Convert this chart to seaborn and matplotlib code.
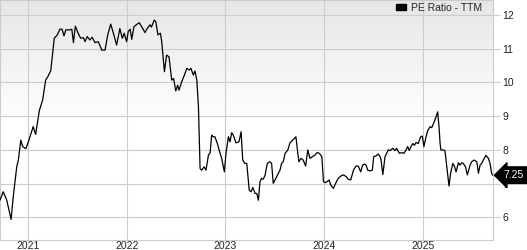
import numpy as np
import pandas as pd
import matplotlib
matplotlib.use("Agg")
import matplotlib.pyplot as plt
from matplotlib.patches import Patch
from matplotlib.colors import LinearSegmentedColormap
import seaborn as sns

# ---------------- data ----------------
dates = [
    "2020-09-18", "2020-09-30", "2020-10-13", "2020-10-29", "2020-11-06", "2020-11-19", "2020-11-25",
    "2020-12-04", "2020-12-11", "2020-12-23", "2021-01-01", "2021-01-19", "2021-01-28", "2021-02-11",
    "2021-02-23", "2021-03-06", "2021-03-14", "2021-03-25", "2021-04-07", "2021-04-18", "2021-04-28",
    "2021-05-06", "2021-05-13", "2021-05-20", "2021-06-04", "2021-06-11", "2021-06-17", "2021-06-24",
    "2021-07-05", "2021-07-14", "2021-07-24", "2021-07-30", "2021-08-07", "2021-08-17", "2021-08-25",
    "2021-09-05", "2021-09-17", "2021-09-30", "2021-10-12", "2021-10-22", "2021-11-02", "2021-11-12",
    "2021-11-24", "2021-12-06", "2021-12-15", "2021-12-22", "2021-12-31", "2022-01-06", "2022-01-13",
    "2022-01-19", "2022-01-27", "2022-02-06", "2022-02-16", "2022-02-25", "2022-03-09", "2022-03-18",
    "2022-03-28", "2022-04-02", "2022-04-12", "2022-04-18", "2022-04-26", "2022-05-05", "2022-05-10",
    "2022-05-20", "2022-05-28", "2022-06-06", "2022-06-16", "2022-06-23", "2022-07-01", "2022-07-08",
    "2022-07-13", "2022-07-23", "2022-08-02", "2022-08-11", "2022-08-20", "2022-08-26", "2022-09-04",
    "2022-09-10", "2022-09-17", "2022-09-23", "2022-09-29", "2022-10-05", "2022-10-14", "2022-10-21",
    "2022-10-30", "2022-11-05", "2022-11-11", "2022-11-17", "2022-11-23", "2022-12-02", "2022-12-12",
    "2022-12-18", "2022-12-28", "2023-01-03", "2023-01-12", "2023-01-18", "2023-01-24", "2023-01-30",
    "2023-02-09", "2023-02-20", "2023-02-28", "2023-03-06", "2023-03-14", "2023-03-21", "2023-03-30",
    "2023-04-06", "2023-04-12", "2023-04-21", "2023-04-27", "2023-05-03", "2023-05-09", "2023-05-15",
    "2023-05-21", "2023-05-28", "2023-06-05", "2023-06-15", "2023-06-21", "2023-06-27", "2023-07-07",
    "2023-07-16", "2023-07-22", "2023-07-28", "2023-08-03", "2023-08-10", "2023-08-20", "2023-08-28",
    "2023-09-09", "2023-09-19", "2023-09-26", "2023-09-30", "2023-10-08", "2023-10-16", "2023-10-25",
    "2023-11-02", "2023-11-10", "2023-11-19", "2023-11-29", "2023-12-06", "2023-12-15", "2023-12-24",
    "2023-12-30", "2024-01-05", "2024-01-13", "2024-01-20", "2024-01-26", "2024-02-05", "2024-02-13",
    "2024-02-23", "2024-03-04", "2024-03-13", "2024-03-23", "2024-03-31", "2024-04-09", "2024-04-19",
    "2024-04-28", "2024-05-07", "2024-05-16", "2024-05-23", "2024-05-29", "2024-06-05", "2024-06-11",
    "2024-06-19", "2024-06-28", "2024-07-03", "2024-07-11", "2024-07-20", "2024-07-27", "2024-07-30",
    "2024-08-06", "2024-08-14", "2024-08-20", "2024-08-26", "2024-09-02", "2024-09-12", "2024-09-20",
    "2024-09-26", "2024-10-06", "2024-10-15", "2024-10-23", "2024-10-31", "2024-11-06", "2024-11-12",
    "2024-11-18", "2024-11-25", "2024-12-01", "2024-12-07", "2024-12-15", "2024-12-24", "2024-12-30",
    "2025-01-05", "2025-01-13", "2025-01-19", "2025-01-28", "2025-02-03", "2025-02-12", "2025-02-19",
    "2025-02-25", "2025-03-02", "2025-03-06", "2025-03-09", "2025-03-18", "2025-03-24", "2025-03-31",
    "2025-04-08", "2025-04-14", "2025-04-22", "2025-04-28", "2025-05-04", "2025-05-13", "2025-05-19",
    "2025-05-25", "2025-05-31", "2025-06-08", "2025-06-15", "2025-06-25", "2025-07-01", "2025-07-10",
    "2025-07-20", "2025-07-26", "2025-08-01", "2025-08-07", "2025-08-13", "2025-08-23", "2025-09-01",
    "2025-09-07", "2025-09-13", "2025-09-17",
]
pe_ratio = [
    6.51, 6.76, 6.51, 5.94, 6.61, 7.50, 7.70,
    8.29, 8.10, 8.04, 8.24, 8.69, 8.46, 9.18,
    9.48, 10.07, 10.17, 10.35, 11.31, 11.41, 11.58,
    11.58, 11.38, 11.56, 11.56, 11.58, 11.18, 11.67,
    11.45, 11.31, 11.33, 11.21, 11.36, 11.26, 11.34,
    11.18, 11.21, 10.96, 10.96, 11.41, 11.73, 11.46,
    11.11, 11.60, 11.31, 11.46, 11.21, 11.51, 11.58,
    11.28, 11.65, 11.72, 11.77, 11.65, 11.48, 11.61,
    11.71, 11.64, 11.85, 11.80, 11.41, 11.46, 11.21,
    10.32, 10.81, 10.76, 10.07, 10.12, 9.75, 9.92,
    9.77, 10.02, 10.22, 10.42, 10.37, 10.42, 10.22,
    10.34, 10.07, 9.28, 7.45, 7.40, 7.50, 7.40,
    7.85, 7.90, 8.44, 8.39, 8.39, 8.19, 7.90,
    7.75, 7.35, 7.90, 8.39, 8.24, 8.51, 8.44,
    8.21, 8.24, 8.54, 7.70, 7.60, 7.60, 6.81,
    6.76, 6.89, 6.71, 6.71, 6.51, 7.06, 7.16,
    7.13, 7.26, 7.60, 7.65, 7.60, 7.01, 7.16,
    7.31, 7.40, 7.60, 7.65, 7.90, 8.00, 8.21,
    8.31, 8.39, 7.90, 7.65, 7.75, 7.70, 7.52,
    8.00, 7.75, 7.80, 7.85, 7.92, 7.90, 7.80,
    7.06, 7.03, 7.06, 7.11, 6.96, 6.86, 7.01,
    7.16, 7.23, 7.26, 7.21, 7.13, 7.11, 7.40,
    7.52, 7.52, 7.35, 7.55, 7.58, 7.55, 7.40,
    7.38, 7.40, 7.80, 7.82, 7.88, 7.80, 7.72,
    7.27, 7.80, 7.90, 8.00, 7.98, 8.05, 7.98,
    8.05, 7.90, 7.92, 7.90, 8.00, 8.10, 7.98,
    8.10, 8.19, 8.14, 8.22, 8.19, 8.39, 8.41,
    8.10, 8.39, 8.57, 8.69, 8.66, 8.83, 8.98,
    9.13, 8.69, 8.19, 8.00, 8.00, 7.98, 7.50,
    6.93, 7.31, 7.60, 7.52, 7.35, 7.62, 7.55,
    7.62, 7.60, 7.50, 7.26, 7.55, 7.65, 7.70,
    7.65, 7.31, 7.55, 7.60, 7.70, 7.84, 7.75,
    7.60, 7.30, 7.25,
]
series_name = "PE Ratio - TTM"
y_ticks = [6, 7, 8, 9, 10, 11, 12]
x_tick_years = ["2021", "2022", "2023", "2024", "2025"]
last_value_label = "7.25"

df = pd.DataFrame({"date": pd.to_datetime(dates), "value": pe_ratio})

# ---------------- style ----------------
sns.set_theme(style="white")
plt.rcParams["font.family"] = ["Liberation Sans", "DejaVu Sans"]

fig = plt.figure(figsize=(5.27, 2.5), dpi=100)
ax = fig.add_axes([0.0, 0.04, 0.935, 0.96])

grid_c = "#cccccc"

# background gradient (grey at top fading to white)
cmap = LinearSegmentedColormap.from_list("bg", ["#ffffff", "#ffffff", "#e6e6e6"], N=256)
grad = np.linspace(0, 1, 256).reshape(-1, 1)
ax.imshow(grad, aspect="auto", cmap=cmap, extent=[0, 1, 0, 1],
          transform=ax.transAxes, origin="lower", zorder=0)

sns.lineplot(data=df, x="date", y="value", ax=ax, color="black",
             linewidth=0.9, zorder=3, legend=False)

ax.set_xlim(pd.Timestamp("2020-09-18"), pd.Timestamp("2025-09-17"))
ax.set_ylim(5.33, 12.445)

ax.set_yticks(y_ticks)
ax.set_yticklabels([str(t) for t in y_ticks])
ax.yaxis.tick_right()
ax.tick_params(axis="y", which="both", right=True, left=False, length=5,
               width=0.8, color=grid_c, labelsize=7.5, labelcolor="#222222", pad=2)

ax.set_xticks([pd.Timestamp(f"{y}-01-01") for y in x_tick_years])
ax.set_xticklabels(x_tick_years)
ax.tick_params(axis="x", bottom=False, length=0, labelsize=7.5,
               labelcolor="#222222", pad=0.5)

ax.grid(True, color=grid_c, linewidth=0.8, zorder=1)
ax.set_axisbelow(True)
ax.set_xlabel("")
ax.set_ylabel("")
for side, sp in ax.spines.items():
    sp.set_visible(True)
    sp.set_color(grid_c)
    sp.set_linewidth(0.8)

# legend
handle = Patch(facecolor="black", edgecolor="black")
ax.legend([handle], [series_name], loc="upper right", bbox_to_anchor=(0.992, 1.015),
          frameon=False, fontsize=7.5, handlelength=1.0, handleheight=0.45,
          handletextpad=0.5, borderaxespad=0.2)

# last value marker
ax.annotate(last_value_label, xy=(1.0, pe_ratio[-1]),
            xycoords=("axes fraction", "data"),
            xytext=(11, 0), textcoords="offset pixels",
            ha="left", va="center", color="white", fontsize=7.5,
            bbox=dict(boxstyle="larrow,pad=0.32", fc="black", ec="black"),
            annotation_clip=False, zorder=10)

fig.savefig("out.png", dpi=100)
